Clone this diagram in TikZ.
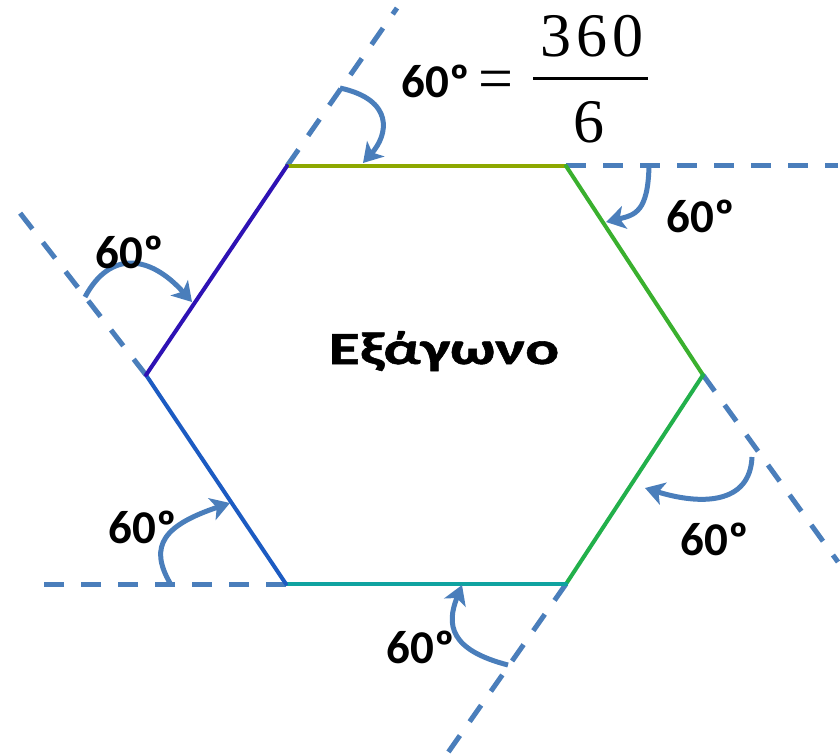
\documentclass[tikz,border=0pt]{standalone}
\usepackage{fontspec}
\newfontfamily\labelfont{Carlito}
\newfontfamily\namefont{Carlito}[FakeStretch=1.38, FakeBold=1.2]
\newfontfamily\fracfont{Liberation Serif}
\usetikzlibrary{arrows.meta}
\definecolor{extblue}{HTML}{4A7EBB}
\definecolor{topc}{HTML}{8DA800}
\definecolor{trc}{HTML}{3AB02E}
\definecolor{brc}{HTML}{22B04B}
\definecolor{botc}{HTML}{0FA3A0}
\definecolor{blc}{HTML}{1C5BC2}
\definecolor{tlc}{HTML}{2E12B4}

\begin{document}
\begin{tikzpicture}[x=1pt, y=-1pt,
    hexside/.style={line width=4pt, line cap=round},
    extline/.style={draw=extblue, line width=5pt, dash pattern=on 20pt off 17pt},
    swing/.style={draw=extblue, line width=5pt, -{Stealth[length=19pt, width=23pt, inset=5pt]}},
    anglelbl/.style={font=\labelfont\bfseries\fontsize{47}{50}\selectfont, inner sep=0pt, anchor=base},
    fraclbl/.style={font=\fracfont\fontsize{62}{66}\selectfont, inner sep=0pt, anchor=base}
  ]
    \useasboundingbox (0,0) rectangle (840,754);
    % hexagon corners
    \coordinate (A) at (287,166);
    \coordinate (B) at (566,166);
    \coordinate (C) at (703,375);
    \coordinate (D) at (566,584);
    \coordinate (E) at (286,584);
    \coordinate (F) at (146,375);
    % far ends of the extended sides
    \coordinate (xa) at (397,8);
    \coordinate (xb) at (838,166);
    \coordinate (xc) at (838,562);
    \coordinate (xd) at (447,754);
    \coordinate (xe) at (35,584);
    \coordinate (xf) at (20,213);

    \draw[extline] (A) -- (xa);
    \draw[extline] (B) -- (xb);
    \draw[extline] (C) -- (xc);
    \draw[extline] (D) -- (xd);
    \draw[extline] (E) -- (xe);
    \draw[extline] (F) -- (xf);

    \draw[hexside, topc] (A) -- (B);
    \draw[hexside, trc] (B) -- (C);
    \draw[hexside, brc] (C) -- (D);
    \draw[hexside, botc] (D) -- (E);
    \draw[hexside, blc] (E) -- (F);
    \draw[hexside, tlc] (F) -- (A);

    % turning arrows
    \coordinate (s1) at (340,88);  \coordinate (t1) at (363,163);
    \coordinate (s2) at (649,166); \coordinate (t2) at (606,222);
    \coordinate (s3) at (752,457); \coordinate (t3) at (645,488);
    \coordinate (s4) at (508,665); \coordinate (t4) at (462,585);
    \coordinate (s5) at (170,583); \coordinate (t5) at (230,503);
    \coordinate (s6) at (85,297);  \coordinate (t6) at (192,302);
    \draw[swing] (s1) .. controls (395,100) and (388,135) .. (t1);
    \draw[swing] (s2) .. controls (648,212) and (635,215) .. (t2);
    \draw[swing] (s3) .. controls (750,505) and (700,505) .. (t3);
    \draw[swing] (s4) .. controls (450,650) and (446,625) .. (t4);
    \draw[swing] (s5) .. controls (148,545) and (165,525) .. (t5);
    \draw[swing] (s6) .. controls (110,250) and (150,255) .. (t6);

    % labels
    \node[anglelbl] (l1) at (436,98) {60º};
    \node[anglelbl] (l2) at (701,232) {60º};
    \node[anglelbl] (l3) at (715,555) {60º};
    \node[anglelbl] (l4) at (421,663) {60º};
    \node[anglelbl] (l5) at (143,543) {60º};
    \node[anglelbl] (l6) at (130,268) {60º};

    \node[fraclbl] (eq) at (496,100) {=};
    \node[fraclbl] (num) at (592,57) {3\hspace{5pt}6\hspace{5pt}0};
    \node[fraclbl] (den) at (589,143) {6};
    \draw[line width=3pt] (533,79) -- (648,79);

    \node[anglelbl, font=\namefont\bfseries\fontsize{46}{50}\selectfont] (name) at (444,364) {Εξάγωνο};
  \end{tikzpicture}
\end{document}
